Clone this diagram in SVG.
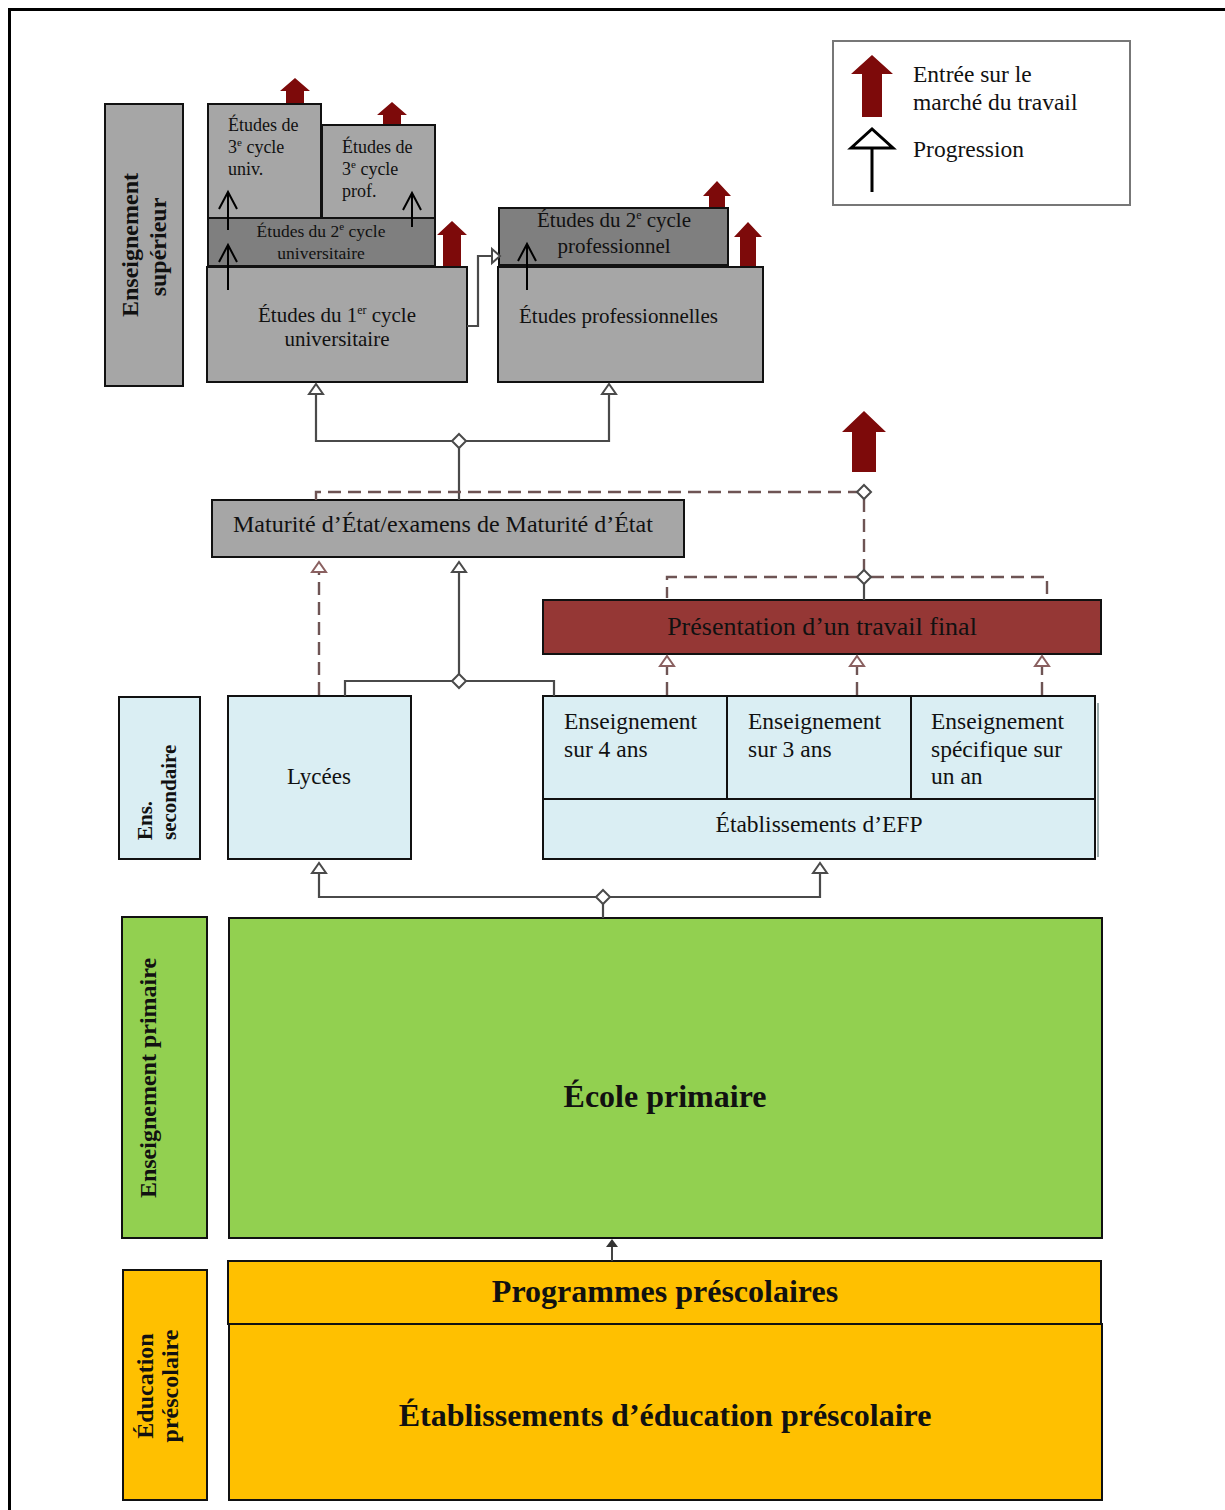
<svg xmlns="http://www.w3.org/2000/svg" width="1225" height="1510" viewBox="0 0 1225 1510">
<style>
text{font-family:"Liberation Serif","Times New Roman",serif;fill:#111}
.b{font-weight:bold}
.box{stroke:#111;stroke-width:2}
.gray{fill:#a6a6a6}
.dgray{fill:#7f7f7f}
.blue{fill:#daeef3}
.green{fill:#92d050}
.orange{fill:#ffc000}
.red{fill:#953735}
.sol{fill:none;stroke:#4a4a4a;stroke-width:2.2}
.dash{fill:none;stroke:#6e5454;stroke-width:2.4;stroke-dasharray:13 7}
.tri{fill:#fff;stroke:#4a4a4a;stroke-width:2}
.trid{fill:#fff;stroke:#8a6060;stroke-width:2}
.dia{fill:#fff;stroke:#4a4a4a;stroke-width:2}
.mk{fill:#7d0a0a}
.prog{fill:none;stroke:#000;stroke-width:2}
</style>
<path d="M9.5 1510 V9.5 H1225" fill="none" stroke="#000" stroke-width="3"/>

<g id="legend">
<rect x="833" y="41" width="297" height="164" fill="#fff" stroke="#777" stroke-width="2"/>
<path class="mk" d="M872 55 L893 74 L882 74 L882 117 L862 117 L862 74 L851 74 Z"/>
<path d="M851 148 L872 129 L893 148 Z M872 148 V192" fill="#fff" stroke="#000" stroke-width="3"/>
<text x="913" y="82" font-size="23.5">Entrée sur le</text>
<text x="913" y="110" font-size="23.5">marché du travail</text>
<text x="913" y="157" font-size="23.5">Progression</text>
</g>

<g id="lbl-sup">
<rect class="box gray" x="105" y="104" width="78" height="282"/>
<text class="b" font-size="24" text-anchor="middle" transform="translate(138,245) rotate(-90)">Enseignement</text>
<text class="b" font-size="24" text-anchor="middle" transform="translate(166,247) rotate(-90)">supérieur</text>
</g>

<g id="markets">
<path class="mk" d="M295 78 L310 91 L304 91 L304 104 L286 104 L286 91 L280 91 Z"/>
<path class="mk" d="M392 102 L407 115 L401 115 L401 125 L383 125 L383 115 L377 115 Z"/>
<path class="mk" d="M452 221 L467 235 L461 235 L461 266 L443 266 L443 235 L437 235 Z"/>
<path class="mk" d="M717 181 L731 196 L725 196 L725 208 L709 208 L709 196 L703 196 Z"/>
<path class="mk" d="M748 222 L762 237 L756 237 L756 266 L740 266 L740 237 L734 237 Z"/>
<path class="mk" d="M864 411 L886 432 L876 432 L876 472 L852 472 L852 432 L842 432 Z"/>
</g>

<g id="n-3univ">
<rect class="box gray" x="208" y="104" width="113" height="114"/>
<text x="228" y="131" font-size="18">Études de</text>
<text x="228" y="153" font-size="18">3<tspan font-size="11" dy="-7">e</tspan><tspan dy="7"> cycle</tspan></text>
<text x="228" y="175" font-size="18">univ.</text>
</g>
<g id="n-3prof">
<rect class="box gray" x="322" y="125" width="113" height="93"/>
<text x="342" y="153" font-size="18">Études de</text>
<text x="342" y="175" font-size="18">3<tspan font-size="11" dy="-7">e</tspan><tspan dy="7"> cycle</tspan></text>
<text x="342" y="197" font-size="18">prof.</text>
</g>
<g id="n-2univ">
<rect class="box dgray" x="208" y="218" width="227" height="48"/>
<text x="321" y="237" font-size="17.5" text-anchor="middle">Études du 2<tspan font-size="11" dy="-7">e</tspan><tspan dy="7"> cycle</tspan></text>
<text x="321" y="259" font-size="17.5" text-anchor="middle">universitaire</text>
</g>
<g id="n-1univ">
<rect class="box gray" x="207" y="267" width="260" height="115"/>
<text x="337" y="322" font-size="21" text-anchor="middle">Études du 1<tspan font-size="12" dy="-8">er</tspan><tspan dy="8"> cycle</tspan></text>
<text x="337" y="346" font-size="21" text-anchor="middle">universitaire</text>
</g>
<g id="n-2prof">
<rect class="box dgray" x="499" y="208" width="229" height="57"/>
<text x="614" y="227" font-size="21" text-anchor="middle">Études du 2<tspan font-size="12" dy="-8">e</tspan><tspan dy="8"> cycle</tspan></text>
<text x="614" y="253" font-size="21" text-anchor="middle">professionnel</text>
</g>
<g id="n-prof">
<rect class="box gray" x="498" y="267" width="265" height="115"/>
<text x="519" y="323" font-size="21">Études professionnelles</text>
</g>

<g id="progressions">
<path class="prog" d="M228 290 V245 M219 262 L228 245 L237 262"/>
<path class="prog" d="M228 230 V192 M219 209 L228 192 L237 209"/>
<path class="prog" d="M412 227 V193 M403 210 L412 193 L421 210"/>
<path class="prog" d="M527 290 V244 M518 261 L527 244 L536 261"/>
</g>

<g id="n-maturite">
<rect class="box gray" x="212" y="500" width="472" height="57"/>
<text x="233" y="532" font-size="24">Maturité d’État/examens de Maturité d’État</text>
</g>

<g id="n-presentation">
<rect class="box red" x="543" y="600" width="558" height="54"/>
<text x="822" y="635" font-size="26" text-anchor="middle">Présentation d’un travail final</text>
</g>

<g id="lbl-sec">
<rect class="box blue" x="119" y="697" width="81" height="162"/>
<text class="b" font-size="21" transform="translate(152,840) rotate(-90)">Ens.</text>
<text class="b" font-size="21" transform="translate(176,840) rotate(-90)">secondaire</text>
</g>
<g id="n-lycees">
<rect class="box blue" x="228" y="696" width="183" height="163"/>
<text x="319" y="784" font-size="23" text-anchor="middle">Lycées</text>
</g>
<g id="n-efp">
<path d="M1098 703 V857" stroke="#9aa" stroke-width="2"/>
<rect class="box blue" x="543" y="696" width="552" height="163"/>
<path d="M543 799 H1095 M727 696 V799 M911 696 V799" stroke="#111" stroke-width="2"/>
<text x="564" y="729" font-size="23.5">Enseignement</text>
<text x="564" y="757" font-size="23.5">sur 4 ans</text>
<text x="748" y="729" font-size="23.5">Enseignement</text>
<text x="748" y="757" font-size="23.5">sur 3 ans</text>
<text x="931" y="729" font-size="23.5">Enseignement</text>
<text x="931" y="757" font-size="23.5">spécifique sur</text>
<text x="931" y="784" font-size="23.5">un an</text>
<text x="819" y="832" font-size="23.5" text-anchor="middle">Établissements d’EFP</text>
</g>

<g id="lbl-prim">
<rect class="box green" x="122" y="917" width="85" height="321"/>
<text class="b" font-size="24" text-anchor="middle" transform="translate(156,1078) rotate(-90)">Enseignement primaire</text>
</g>
<g id="n-primaire">
<rect class="box green" x="229" y="918" width="873" height="320"/>
<text class="b" x="665" y="1107" font-size="32" text-anchor="middle">École primaire</text>
</g>

<g id="lbl-pre">
<rect class="box orange" x="123" y="1270" width="84" height="230"/>
<text class="b" font-size="24" text-anchor="middle" transform="translate(153,1386) rotate(-90)">Éducation</text>
<text class="b" font-size="24" text-anchor="middle" transform="translate(178,1386) rotate(-90)">préscolaire</text>
</g>
<g id="n-programmes">
<rect class="box orange" x="228" y="1261" width="873" height="63"/>
<text class="b" x="665" y="1302" font-size="32" text-anchor="middle">Programmes préscolaires</text>
</g>
<g id="n-etab-pre">
<rect class="box orange" x="229" y="1324" width="873" height="176"/>
<text class="b" x="665" y="1426" font-size="32" text-anchor="middle">Établissements d’éducation préscolaire</text>
</g>

<g id="connectors">
<path class="sol" d="M467 326 H478 V256 H492"/>
<path class="tri" d="M492 249 L500 256 L492 263 Z"/>

<path class="sol" d="M459 500 V447 M453 441 H316 V394 M465 441 H609 V394"/>
<path class="tri" d="M309 394 L316 384 L323 394 Z"/>
<path class="tri" d="M602 394 L609 384 L616 394 Z"/>
<path class="dia" d="M459 434 L466 441 L459 448 L452 441 Z"/>

<path class="dash" d="M316 500 V492 H857"/>
<path class="dash" d="M864 499 V570"/>
<path class="dash" d="M857 577 H667 V598 M871 577 H1047 V598"/>
<path class="sol" d="M864 584 V600"/>
<path class="dia" d="M864 485 L871 492 L864 499 L857 492 Z"/>
<path class="dia" d="M864 570 L871 577 L864 584 L857 577 Z"/>

<path class="dash" d="M319 695 V572"/>
<path class="trid" d="M312 572 L319 562 L326 572 Z"/>
<path class="sol" d="M459 675 V572 M453 681 H345 V696 M465 681 H554 V696"/>
<path class="tri" d="M452 572 L459 562 L466 572 Z"/>
<path class="dia" d="M459 674 L466 681 L459 688 L452 681 Z"/>

<path class="dash" d="M667 695 V666 M857 695 V666 M1042 695 V666"/>
<path class="trid" d="M660 666 L667 656 L674 666 Z"/>
<path class="trid" d="M850 666 L857 656 L864 666 Z"/>
<path class="trid" d="M1035 666 L1042 656 L1049 666 Z"/>

<path class="sol" d="M597 897 H319 V873 M609 897 H820 V873 M603 903 V918"/>
<path class="tri" d="M312 873 L319 863 L326 873 Z"/>
<path class="tri" d="M813 873 L820 863 L827 873 Z"/>
<path class="dia" d="M603 890 L610 897 L603 904 L596 897 Z"/>

<path d="M612 1261 V1246" stroke="#444" stroke-width="2"/>
<path d="M606 1247 L612 1239 L618 1247 Z" fill="#333"/>
</g>
</svg>
